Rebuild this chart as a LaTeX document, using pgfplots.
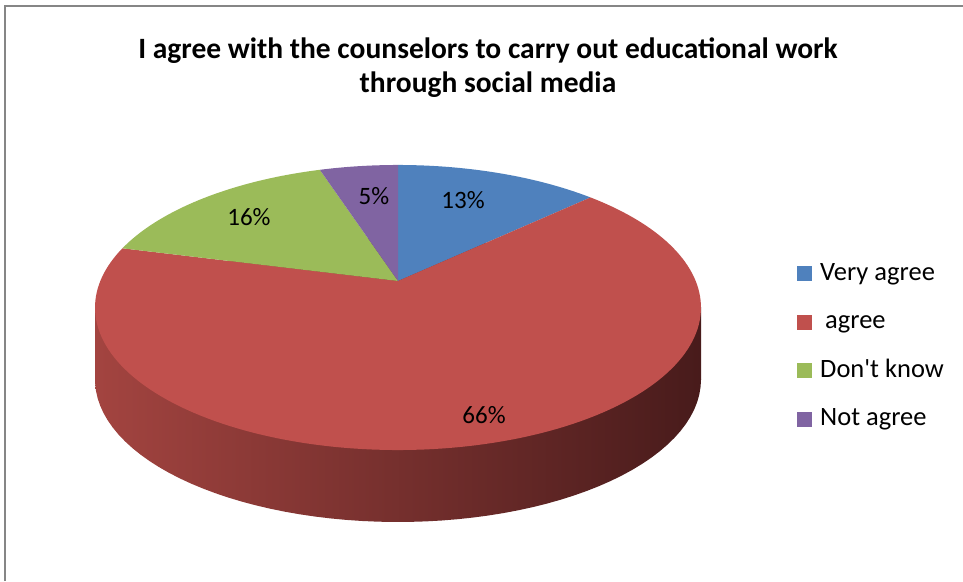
\documentclass[border=0pt]{standalone}
\usepackage{pgfplots}
\pgfplotsset{compat=1.18}
\usepackage{fontspec}
\setmainfont{Carlito}

\definecolor{cBlue}{RGB}{79,129,189}
\definecolor{cRed}{RGB}{192,80,77}
\definecolor{cGreen}{RGB}{155,187,89}
\definecolor{cPurple}{RGB}{128,100,162}
\definecolor{sideL}{RGB}{163,68,64}
\definecolor{sideR}{RGB}{72,27,27}
\definecolor{frameC}{RGB}{134,134,134}

% shares in percent, clockwise from 12 o'clock
\def\pA{13}\def\pB{66}\def\pC{16}\def\pD{5}
\pgfmathsetmacro\tA{0}
\pgfmathsetmacro\tB{\tA+3.6*\pA}
\pgfmathsetmacro\tC{\tB+3.6*\pB}
\pgfmathsetmacro\tD{\tC+3.6*\pC}
\pgfmathsetmacro\tE{\tD+3.6*\pD}

% top face seen in perspective (1 unit = 1px of the reference)
\newcommand\px[1]{398+297.7*sin(#1)/(1+0.186*cos(#1))}
\newcommand\py[1]{300+137.6*cos(#1)/(1+0.186*cos(#1))}

\begin{document}
\begin{tikzpicture}
\begin{axis}[
    scale only axis,
    width=963pt, height=581pt,
    xmin=0, xmax=963, ymin=0, ymax=581,
    axis lines=none,
    legend cell align=left,
    legend image code/.code={\fill[#1] (0pt,-7pt) rectangle (15pt,8pt);},
    legend style={draw=none, fill=none, at={(axis cs:794,321)}, anchor=north west,
        font=\fontsize{26.5}{30}\selectfont, row sep=24.5pt,
        nodes={inner xsep=8pt, inner ysep=0pt, text height=18pt, text depth=6pt}},
]
% side of the disc
\addplot[forget plot, draw=none, left color=sideL, right color=sideR,
    domain=0:360, samples=120, variable=\t]
    ({398+303*cos(\t)}, {201.5+142.5*sin(\t)});
\addplot[forget plot, draw=none, left color=sideL, right color=sideR]
    coordinates {(95,201.5) (701,201.5) (701,273.5) (95,273.5)} -- cycle;

% slices
\addplot[fill=cBlue, draw=none, domain=\tA:\tB, samples=40, variable=\t]
    ({\px{\t}}, {\py{\t}}) -- (axis cs:398,300) -- cycle;
\addplot[fill=cRed, draw=none, domain=\tB:\tC, samples=150, variable=\t]
    ({\px{\t}}, {\py{\t}}) -- (axis cs:398,300) -- cycle;
\addplot[fill=cGreen, draw=none, domain=\tC:\tD, samples=40, variable=\t]
    ({\px{\t}}, {\py{\t}}) -- (axis cs:398,300) -- cycle;
\addplot[fill=cPurple, draw=none, domain=\tD:\tE, samples=20, variable=\t]
    ({\px{\t}}, {\py{\t}}) -- (axis cs:398,300) -- cycle;
\legend{Very agree, \hspace{5pt}agree, Don\textquotesingle t know, Not agree}

\begin{scope}[font=\fontsize{25}{30}\selectfont]
\node at (axis cs:463,381) {13\%};
\node at (axis cs:374,385) {5\%};
\node at (axis cs:249,364) {16\%};
\node at (axis cs:484,166) {66\%};
\end{scope}

\node[align=center, font=\bfseries\fontsize{29.5}{34}\selectfont]
    at (axis cs:488,513) {I agree with the counselors to carry out educational work\\through social media};

\draw[frameC, line width=2pt] (axis cs:5,0) -- (axis cs:5,575) -- (axis cs:963,575);
\end{axis}
\pgfresetboundingbox
\path (current axis.south west) rectangle (current axis.north east);
\end{tikzpicture}
\end{document}
